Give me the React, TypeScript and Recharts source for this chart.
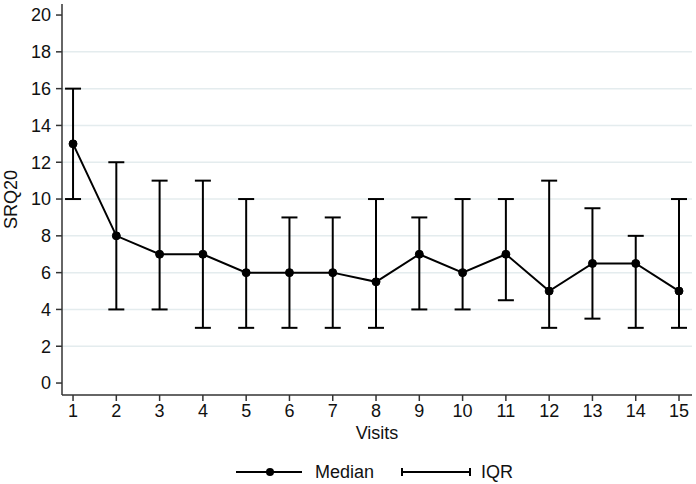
import { LineChart, Line, XAxis, YAxis, CartesianGrid, ErrorBar, Legend } from 'recharts';

const visits = [1, 2, 3, 4, 5, 6, 7, 8, 9, 10, 11, 12, 13, 14, 15];
const median = [13, 8, 7, 7, 6, 6, 6, 5.5, 7, 6, 7, 5, 6.5, 6.5, 5];
const q1 = [10, 4, 4, 3, 3, 3, 3, 3, 4, 4, 4.5, 3, 3.5, 3, 3];
const q3 = [16, 12, 11, 11, 10, 9, 9, 10, 9, 10, 10, 11, 9.5, 8, 10];
const yTicks = [0, 2, 4, 6, 8, 10, 12, 14, 16, 18, 20];
const gridValues = [2, 4, 6, 8, 10, 12, 14, 16, 18];

const data = visits.map((v, i) => ({
  visit: v,
  median: median[i],
  iqr: [median[i] - q1[i], q3[i] - median[i]],
}));

const font = '"Liberation Sans", Arial, sans-serif';
const axisColor = '#333';
const fs = 18;

function LegendContent() {
  // median line with marker, then an IQR cap symbol
  return (
    <svg width={696} height={40} style={{ display: 'block' }}>
      <line x1={236} y1={28} x2={302} y2={28} stroke="#000" strokeWidth={2} />
      <circle cx={270} cy={28} r={4} fill="#000" />
      <text x={315} y={34} fontSize={fs} fontFamily={font} fill="#111">Median</text>
      <line x1={402} y1={28} x2={470} y2={28} stroke="#000" strokeWidth={2} />
      <line x1={402} y1={24} x2={402} y2={32} stroke="#000" strokeWidth={2} />
      <line x1={470} y1={24} x2={470} y2={32} stroke="#000" strokeWidth={2} />
      <text x={481} y={34} fontSize={fs} fontFamily={font} fill="#111">IQR</text>
    </svg>
  );
}

export default function App() {
  return (
    <div style={{ position: 'absolute', left: 0, top: 0, background: '#fff' }}>
      <LineChart width={696} height={484} data={data} margin={{ top: 4, right: 4, left: 0, bottom: 0 }}>
        <CartesianGrid vertical={false} horizontalValues={gridValues} stroke="#e4ecee" strokeWidth={1.5} />
        <XAxis
          dataKey="visit"
          type="number"
          domain={[0.745, 15.3]}
          ticks={visits}
          interval={0}
          height={49}
          tickSize={6}
          tickMargin={3}
          stroke={axisColor}
          strokeWidth={1.5}
          tick={{ fill: '#111', fontSize: fs, fontFamily: font }}
          label={{ value: 'Visits', position: 'insideBottom', offset: 5, fill: '#111', fontSize: fs, fontFamily: font }}
        />
        <YAxis
          type="number"
          domain={[-0.65, 20.6]}
          ticks={yTicks}
          interval={0}
          width={62}
          tickSize={6}
          tickMargin={5}
          stroke={axisColor}
          strokeWidth={1.5}
          tick={{ fill: '#111', fontSize: fs, fontFamily: font }}
          label={(props: any) => {
            const vb = props.viewBox || {};
            const cy = (vb.y ?? 0) + (vb.height ?? 0) / 2;
            return (
              <text
                x={11}
                y={cy}
                transform={`rotate(-90, 11, ${cy})`}
                textAnchor="middle"
                dominantBaseline="central"
                fontSize={fs}
                fontFamily={font}
                fill="#111"
              >
                SRQ20
              </text>
            );
          }}
        />
        <Legend verticalAlign="bottom" height={40} content={() => <LegendContent />} />
        <Line
          dataKey="median"
          stroke="#000"
          strokeWidth={2}
          dot={{ r: 4, fill: '#000', stroke: '#000', strokeWidth: 1 }}
          activeDot={false}
          isAnimationActive={false}
        >
          <ErrorBar dataKey="iqr" width={8} stroke="#000" strokeWidth={2} direction="y" />
        </Line>
      </LineChart>
    </div>
  );
}
